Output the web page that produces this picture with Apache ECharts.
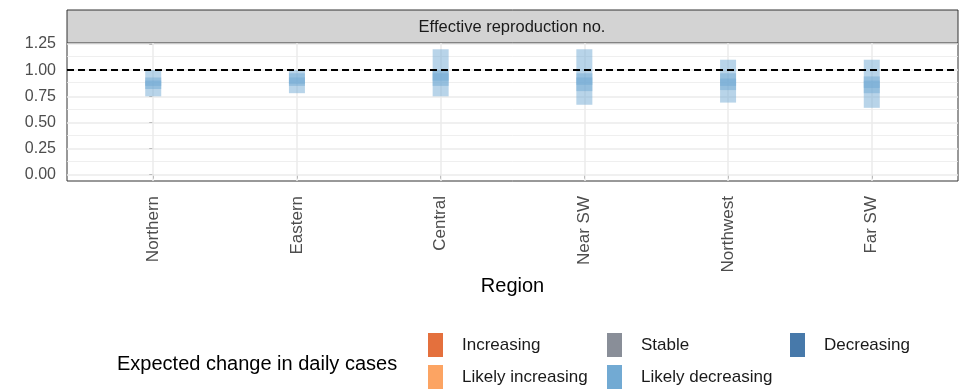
<!DOCTYPE html>
<html>
<head>
<meta charset="utf-8">
<script src="https://cdn.jsdelivr.net/npm/echarts@6/dist/echarts.min.js"></script>
<style>
  html, body { margin: 0; padding: 0; background: #fff; }
  #main { width: 971px; height: 390px; }
</style>
</head>
<body>
<div id="main"></div>
<script>
// regions on the x axis
var regions = ['Northern', 'Eastern', 'Central', 'Near SW', 'Northwest', 'Far SW'];
// credible intervals of R (90%, 50%, 20%)
var lower90 = [0.75, 0.78, 0.75, 0.67, 0.69, 0.64];
var upper90 = [1.00, 1.00, 1.20, 1.20, 1.10, 1.10];
var lower50 = [0.82, 0.85, 0.85, 0.80, 0.81, 0.78];
var upper50 = [0.93, 0.97, 1.00, 0.97, 0.97, 0.94];
var lower20 = [0.85, 0.87, 0.90, 0.86, 0.85, 0.83];
var upper20 = [0.90, 0.93, 0.97, 0.93, 0.92, 0.90];
// y tick labels
var yTicks = [0, 0.25, 0.5, 0.75, 1.0, 1.25];
var yMinor = [0.125, 0.375, 0.625, 0.875, 1.125];
var refLine = 1.0;
// legend
var changeNames = ['Increasing', 'Likely increasing', 'Stable', 'Likely decreasing', 'Decreasing'];
var changeColors = ['#e4703d', '#fca463', '#898e98', '#72aad3', '#4779aa'];

var font = "'Liberation Sans', Arial, sans-serif";
var myChart = echarts.init(document.getElementById('main'));

var barData = regions.map(function (r, i) {
    return [i, lower90[i], upper90[i], lower50[i], upper50[i], lower20[i], upper20[i]];
});

var gridLines = [];
yTicks.forEach(function (v) {
    gridLines.push({ yAxis: v, lineStyle: { color: '#ebebeb', width: 1.5, type: 'solid' } });
});
yMinor.forEach(function (v) {
    gridLines.push({ yAxis: v, lineStyle: { color: '#ebebeb', width: 0.8, type: 'solid' } });
});
regions.forEach(function (r, i) {
    gridLines.push({ xAxis: i, lineStyle: { color: '#ebebeb', width: 1.5, type: 'solid' } });
});

function renderBar(params, api) {
    var x = api.value(0);
    var w = 16;
    var kids = [];
    for (var k = 0; k < 3; k++) {
        var lo = api.coord([x, api.value(1 + k * 2)]);
        var hi = api.coord([x, api.value(2 + k * 2)]);
        kids.push({
            type: 'rect',
            shape: { x: lo[0] - w / 2, y: hi[1], width: w, height: lo[1] - hi[1] },
            style: { fill: changeColors[3], opacity: 0.5 }
        });
    }
    return { type: 'group', children: kids };
}

var series = [{
    name: 'grid',
    type: 'line',
    data: [],
    silent: true,
    z: 1,
    markLine: {
        silent: true,
        symbol: 'none',
        animation: false,
        z: 1,
        label: { show: false },
        data: gridLines
    }
}];

changeNames.forEach(function (n, i) {
    if (n === 'Likely decreasing') {
        series.push({
            name: n,
            type: 'custom',
            renderItem: renderBar,
            data: barData,
            itemStyle: { color: changeColors[i] },
            z: 3,
            markLine: {
                silent: true,
                symbol: 'none',
                animation: false,
                label: { show: false },
                lineStyle: { color: '#000', width: 2, type: [7, 4] },
                data: [{ yAxis: refLine }],
                z: 5
            }
        });
    } else {
        series.push({
            name: n,
            type: 'custom',
            renderItem: renderBar,
            data: [],
            itemStyle: { color: changeColors[i] }
        });
    }
});

var legendBase = {
    orient: 'vertical',
    top: 333,
    padding: 0,
    itemWidth: 15,
    itemHeight: 24,
    itemGap: 8,
    icon: 'rect',
    selectedMode: false,
    textStyle: { fontFamily: font, fontSize: 17, color: '#1a1a1a', padding: [3, 0, 0, 14] }
};

var option = {
    animation: false,
    backgroundColor: '#fff',
    textStyle: { fontFamily: font },
    title: {
        text: 'Expected change in daily cases',
        left: 112,
        top: 349,
        textStyle: { fontFamily: font, fontSize: 20, fontWeight: 'normal', color: '#000' }
    },
    legend: [
        Object.assign({}, legendBase, { left: 428, data: ['Increasing', 'Likely increasing'] }),
        Object.assign({}, legendBase, { left: 607, data: ['Stable', 'Likely decreasing'] }),
        Object.assign({}, legendBase, { left: 790, data: ['Decreasing'] })
    ],
    grid: {
        left: 67, right: 13, top: 43, bottom: 209,
        show: true,
        backgroundColor: '#fff',
        borderColor: '#333',
        borderWidth: 1
    },
    xAxis: {
        type: 'value',
        min: -0.6,
        max: 5.6,
        name: 'Region',
        nameLocation: 'middle',
        nameGap: 92,
        nameTextStyle: { fontFamily: font, fontSize: 20, color: '#000' },
        axisLine: { show: false },
        splitLine: { show: false },
        axisTick: { show: true, length: 4, lineStyle: { color: '#333' }, customValues: [0, 1, 2, 3, 4, 5] },
        axisLabel: {
            rotate: 90,
            margin: 15,
            fontSize: 17,
            color: '#4d4d4d',
            customValues: [0, 1, 2, 3, 4, 5],
            formatter: function (v) { return regions[Math.round(v)]; }
        }
    },
    yAxis: {
        type: 'value',
        min: -0.06,
        max: 1.26,
        axisLine: { show: false },
        splitLine: { show: false },
        axisTick: { show: true, length: 4, lineStyle: { color: '#333' }, customValues: yTicks },
        axisLabel: {
            margin: 11,
            fontSize: 16,
            color: '#4d4d4d',
            customValues: yTicks,
            formatter: function (v) { return v.toFixed(2); }
        }
    },
    graphic: [
        {
            type: 'rect',
            shape: { x: 67, y: 10, width: 891, height: 33 },
            style: { fill: '#d3d3d3', stroke: '#333', lineWidth: 1 }
        },
        {
            type: 'text',
            x: 512, y: 27,
            style: {
                text: 'Effective reproduction no.',
                fill: '#1a1a1a',
                font: '16.5px ' + font,
                textAlign: 'center',
                textVerticalAlign: 'middle'
            }
        }
    ],
    series: series
};

myChart.setOption(option);
window.addEventListener('resize', function () {
    myChart.resize();
});
</script>
</body>
</html>
